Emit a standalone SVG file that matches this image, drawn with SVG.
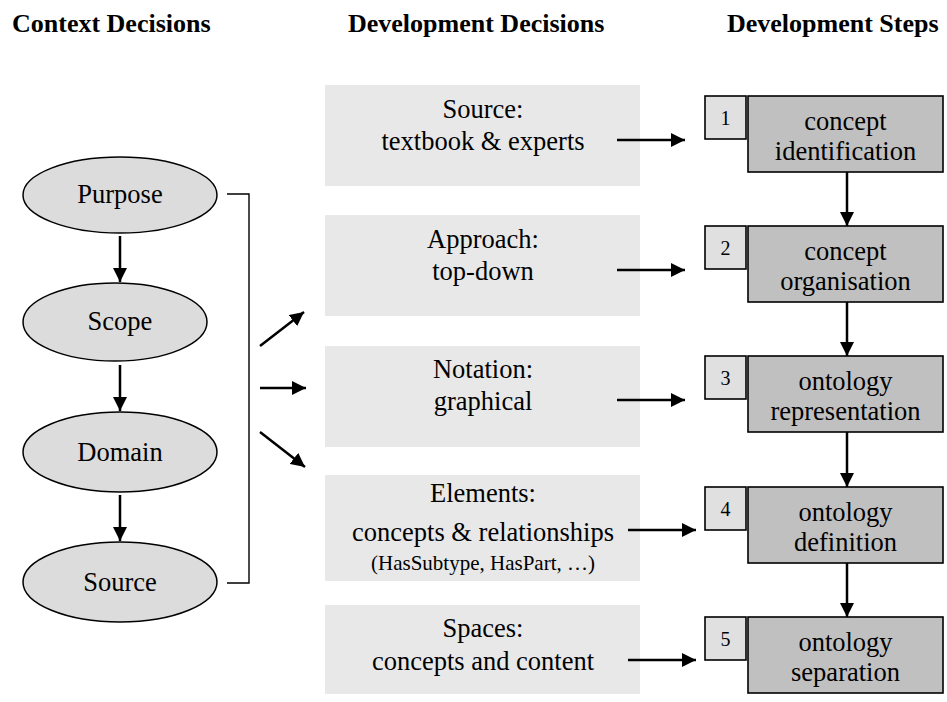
<svg xmlns="http://www.w3.org/2000/svg" width="947" height="702" viewBox="0 0 947 702">
<style>
text{font-family:"Liberation Serif","Times New Roman",serif;fill:#000}
.h{font-size:26px;font-weight:bold}
.t{font-size:26.5px;text-anchor:middle}
.s{font-size:21px;text-anchor:middle}
.n{font-size:20px;text-anchor:middle}
.ell{fill:#dcdcdc;stroke:#000;stroke-width:1.5}
.dec{fill:#e8e8e8}
.num{fill:#e0e0e0;stroke:#000;stroke-width:1.6}
.step{fill:#c0c0c0;stroke:#000;stroke-width:1.6}
.a{stroke:#000;stroke-width:2.5;fill:none;marker-end:url(#ah)}
.br{stroke:#000;stroke-width:1.4;fill:none}
</style>
<defs>
<marker id="ah" markerUnits="userSpaceOnUse" markerWidth="16" markerHeight="14" refX="14" refY="7" orient="auto">
<path d="M0,0 L14,7 L0,14 Z" fill="#000"/>
</marker>
</defs>
<rect width="947" height="702" fill="#fff"/>
<g id="headers">
<text class="h" x="12" y="32">Context Decisions</text>
<text class="h" x="348" y="32">Development Decisions</text>
<text class="h" x="727" y="32">Development Steps</text>
</g>
<g id="ctx-purpose"><ellipse class="ell" cx="120" cy="195" rx="97" ry="38"/><text class="t" x="120" y="203">Purpose</text></g>
<g id="ctx-scope"><ellipse class="ell" cx="115" cy="322" rx="92" ry="39"/><text class="t" x="120" y="330">Scope</text></g>
<g id="ctx-domain"><ellipse class="ell" cx="120" cy="452" rx="97" ry="40"/><text class="t" x="120" y="461">Domain</text></g>
<g id="ctx-source"><ellipse class="ell" cx="120" cy="582" rx="97" ry="40"/><text class="t" x="120" y="591">Source</text></g>
<g id="dec-source"><rect class="dec" x="325" y="85" width="315" height="101"/><text class="t" x="483" y="118">Source:</text><text class="t" x="483" y="150">textbook &amp; experts</text></g>
<g id="dec-approach"><rect class="dec" x="325" y="215" width="315" height="101"/><text class="t" x="483" y="248">Approach:</text><text class="t" x="483" y="280">top-down</text></g>
<g id="dec-notation"><rect class="dec" x="325" y="346" width="315" height="101"/><text class="t" x="483" y="378">Notation:</text><text class="t" x="483" y="410">graphical</text></g>
<g id="dec-elements"><rect class="dec" x="325" y="475" width="315" height="106"/><text class="t" x="483" y="502">Elements:</text><text class="t" x="483" y="541">concepts &amp; relationships</text><text class="s" x="483" y="570">(HasSubtype, HasPart, …)</text></g>
<g id="dec-spaces"><rect class="dec" x="325" y="605" width="315" height="89"/><text class="t" x="483" y="637">Spaces:</text><text class="t" x="483" y="670">concepts and content</text></g>
<g id="step1"><rect class="num" x="705" y="96" width="41" height="43"/><text class="n" x="725.5" y="125">1</text><rect class="step" x="748" y="96" width="195" height="76"/><text class="t" x="845.5" y="130">concept</text><text class="t" x="845.5" y="160">identification</text></g>
<g id="step2"><rect class="num" x="705" y="226" width="41" height="43"/><text class="n" x="725.5" y="255">2</text><rect class="step" x="748" y="226" width="195" height="76"/><text class="t" x="845.5" y="260">concept</text><text class="t" x="845.5" y="290">organisation</text></g>
<g id="step3"><rect class="num" x="705" y="356" width="41" height="43"/><text class="n" x="725.5" y="385">3</text><rect class="step" x="748" y="356" width="195" height="76"/><text class="t" x="845.5" y="390">ontology</text><text class="t" x="845.5" y="420">representation</text></g>
<g id="step4"><rect class="num" x="705" y="487" width="41" height="43"/><text class="n" x="725.5" y="516">4</text><rect class="step" x="748" y="487" width="195" height="76"/><text class="t" x="845.5" y="521">ontology</text><text class="t" x="845.5" y="551">definition</text></g>
<g id="step5"><rect class="num" x="705" y="617" width="41" height="43"/><text class="n" x="725.5" y="646">5</text><rect class="step" x="748" y="617" width="195" height="76"/><text class="t" x="845.5" y="651">ontology</text><text class="t" x="845.5" y="681">separation</text></g>
<g id="connectors">
<line class="a" x1="120" y1="236" x2="120" y2="282"/>
<line class="a" x1="120" y1="365" x2="120" y2="411"/>
<line class="a" x1="120" y1="495" x2="120" y2="541"/>
<polyline class="br" points="227,194 249,194 249,583 227,583"/>
<line class="a" x1="260" y1="346" x2="304" y2="312"/>
<line class="a" x1="260" y1="388" x2="306" y2="388"/>
<line class="a" x1="260" y1="432" x2="305" y2="467"/>
<line class="a" x1="617" y1="140" x2="685" y2="140"/>
<line class="a" x1="617" y1="270" x2="685" y2="270"/>
<line class="a" x1="617" y1="400" x2="685" y2="400"/>
<line class="a" x1="628" y1="530" x2="696" y2="530"/>
<line class="a" x1="628" y1="660" x2="696" y2="660"/>
<line class="a" x1="847" y1="172" x2="847" y2="226"/>
<line class="a" x1="847" y1="302" x2="847" y2="356"/>
<line class="a" x1="847" y1="432" x2="847" y2="487"/>
<line class="a" x1="847" y1="563" x2="847" y2="617"/>
</g>
</svg>
